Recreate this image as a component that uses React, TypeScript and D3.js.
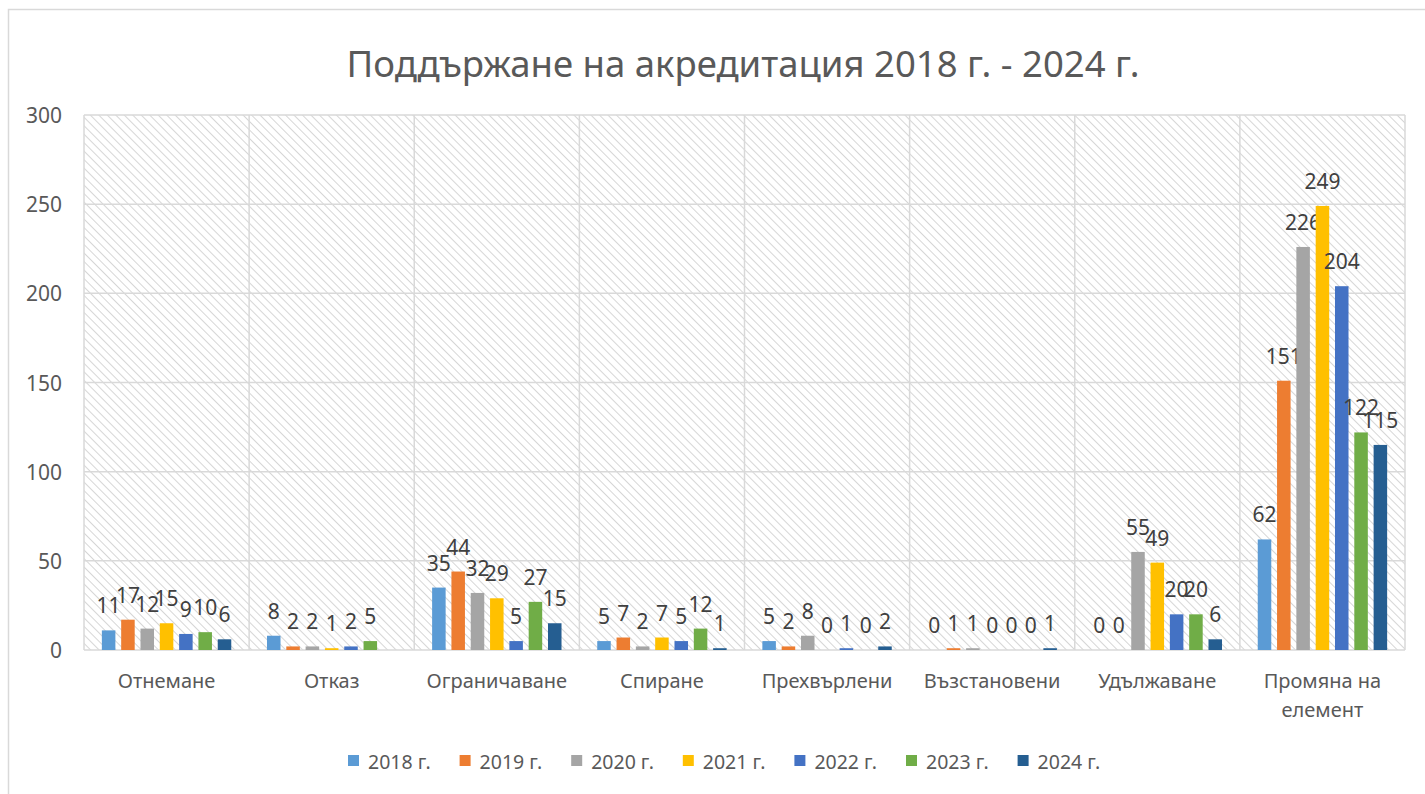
import React from "react";
import * as d3 from "d3";

const categories: string[][] = [
  ["Отнемане"],
  ["Отказ"],
  ["Ограничаване"],
  ["Спиране"],
  ["Прехвърлени"],
  ["Възстановени"],
  ["Удължаване"],
  ["Промяна на", "елемент"],
];
const seriesNames = ["2018 г.", "2019 г.", "2020 г.", "2021 г.", "2022 г.", "2023 г.", "2024 г."];
const seriesColors = ["#5B9BD5", "#ED7D31", "#A5A5A5", "#FFC000", "#4472C4", "#70AD47", "#255E91"];
const s2018 = [11, 8, 35, 5, 5, 0, 0, 62];
const s2019 = [17, 2, 44, 7, 2, 1, 0, 151];
const s2020 = [12, 2, 32, 2, 8, 1, 55, 226];
const s2021 = [15, 1, 29, 7, 0, 0, 49, 249];
const s2022 = [9, 2, 5, 5, 1, 0, 20, 204];
const s2023 = [10, 5, 27, 12, 0, 0, 20, 122];
const s2024: (number | null)[] = [6, null, 15, 1, 2, 1, 6, 115];
const yTicks = [0, 50, 100, 150, 200, 250, 300];
const title = "Поддържане на акредитация 2018 г. - 2024 г.";

const allSeries: (number | null)[][] = [s2018, s2019, s2020, s2021, s2022, s2023, s2024];

const W = 1425;
const H = 794;
const plot = { left: 84, right: 1405, top: 115, bottom: 650 };
const FONT = "'Noto Sans', 'DejaVu Sans', sans-serif";

export default function App() {
  const x = d3
    .scaleBand<number>()
    .domain(categories.map((_, i) => i))
    .range([plot.left, plot.right])
    .padding(0);
  const xi = d3
    .scaleBand<number>()
    .domain(seriesNames.map((_, i) => i))
    .range([0, x.bandwidth()])
    .paddingInner(0.3)
    .paddingOuter(0.925);
  const y = d3.scaleLinear().domain([0, 300]).range([plot.bottom, plot.top]);

  const legendStart = 348;
  const legendStep = 111.6;

  return (
    <svg
      width={W}
      height={H}
      style={{ position: "absolute", left: 0, top: 0, background: "#fff" }}
      fontFamily={FONT}
    >
      <defs>
        <pattern
          id="hatch"
          width={6}
          height={6}
          patternUnits="userSpaceOnUse"
          patternTransform="rotate(-45)"
        >
          <rect width={6} height={6} fill="#ffffff" />
          <line x1={0} y1={0} x2={0} y2={6} stroke="#d6d6d6" strokeWidth={2} />
        </pattern>
      </defs>
      <rect x={8.5} y={9.5} width={W + 20} height={H + 20} fill="#fff" stroke="#d9d9d9" strokeWidth={1.5} />
      <text x={743} y={77} textAnchor="middle" fontSize={36.5} fill="#595959">
        {title}
      </text>

      <rect
        x={plot.left}
        y={plot.top}
        width={plot.right - plot.left}
        height={plot.bottom - plot.top}
        fill="url(#hatch)"
      />
      {yTicks.map((t) => (
        <line
          key={"h" + t}
          x1={plot.left}
          x2={plot.right}
          y1={y(t)}
          y2={y(t)}
          stroke="#d9d9d9"
          strokeWidth={1.5}
        />
      ))}
      {d3.range(categories.length + 1).map((i) => {
        const xx = plot.left + i * x.step();
        return (
          <line
            key={"v" + i}
            x1={xx}
            x2={xx}
            y1={plot.top}
            y2={plot.bottom}
            stroke="#d9d9d9"
            strokeWidth={1.5}
          />
        );
      })}
      {yTicks.map((t) => (
        <text key={"yt" + t} x={62} y={y(t) + 8} textAnchor="end" fontSize={21} fill="#595959">
          {t}
        </text>
      ))}

      {categories.map((cat, ci) =>
        allSeries.map((s, si) => {
          const v = s[ci];
          if (v === null || v === undefined) return null;
          const bx = (x(ci) as number) + (xi(si) as number);
          const top = y(v);
          return (
            <g key={`b${ci}-${si}`}>
              <rect x={bx} y={top} width={xi.bandwidth()} height={plot.bottom - top} fill={seriesColors[si]} />
              <text
                x={bx + xi.bandwidth() / 2}
                y={top - 17}
                textAnchor="middle"
                fontSize={21}
                fill="#404040"
              >
                {v}
              </text>
            </g>
          );
        })
      )}

      {categories.map((lines, ci) => (
        <text
          key={"c" + ci}
          x={(x(ci) as number) + x.bandwidth() / 2}
          y={688}
          textAnchor="middle"
          fontSize={20}
          fill="#595959"
        >
          {lines.map((l, li) => (
            <tspan key={li} x={(x(ci) as number) + x.bandwidth() / 2} dy={li === 0 ? 0 : 29}>
              {l}
            </tspan>
          ))}
        </text>
      ))}

      {seriesNames.map((n, si) => {
        const lx = legendStart + si * legendStep;
        return (
          <g key={"l" + si}>
            <rect x={lx} y={755} width={11} height={11} fill={seriesColors[si]} />
            <text x={lx + 20} y={769} fontSize={19.5} fill="#595959">
              {n}
            </text>
          </g>
        );
      })}
    </svg>
  );
}
